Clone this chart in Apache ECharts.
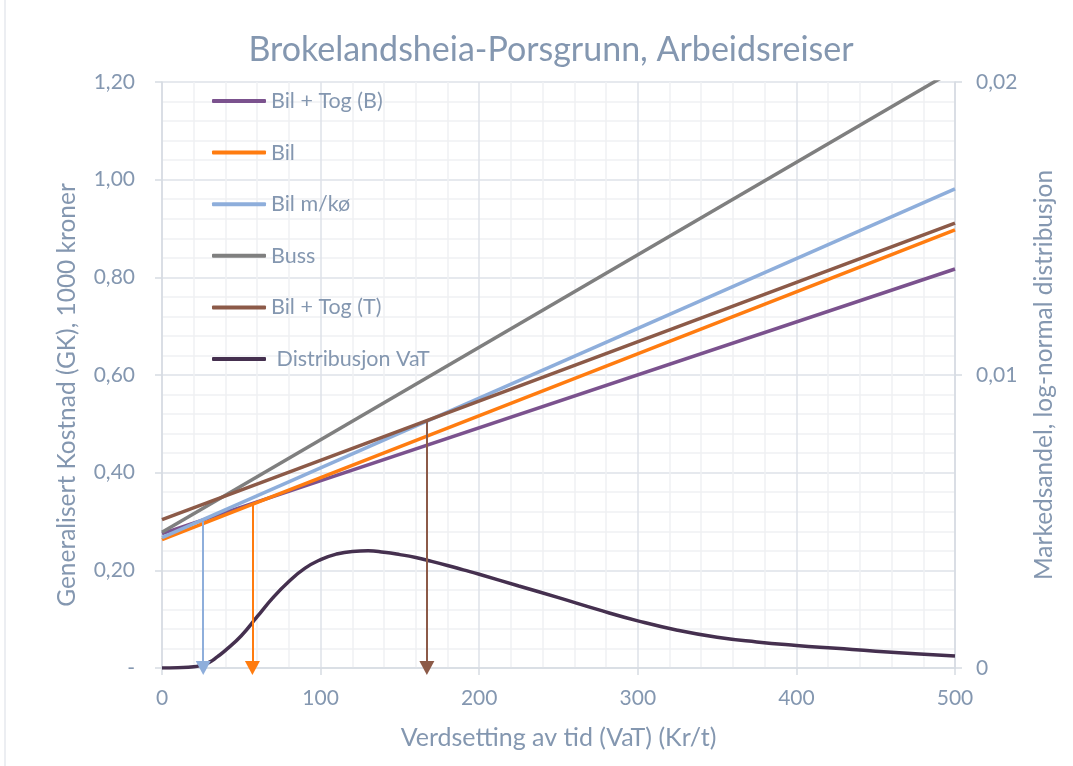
<!DOCTYPE html>
<html>
<head>
<meta charset="utf-8">
<script src="https://cdn.jsdelivr.net/npm/echarts@6/dist/echarts.min.js"></script>
<style>
html,body{margin:0;padding:0;background:#fff;}
#c{width:1073px;height:766px;}
</style>
</head>
<body>
<div id="c"></div>
<script>
// ---- data ----
const titleText = 'Brokelandsheia-Porsgrunn, Arbeidsreiser';
const xName = 'Verdsetting av tid (VaT) (Kr/t)';
const yLeftName = 'Generalisert Kostnad (GK), 1000 kroner';
const yRightName = 'Markedsandel, log-normal distribusjon';
const seriesNames = ['Bil + Tog (B)', 'Bil', 'Bil m/kø', 'Buss', 'Bil + Tog (T)', 'Distribusjon VaT'];

const vatEnds = [0, 500];
const bilTogB = [0.275, 0.817];
const bil = [0.263, 0.897];
const bilKo = [0.267, 0.981];
const buss = [0.278, 1.225];
const bilTogT = [0.304, 0.911];

const distX = [0, 10, 20, 25, 30, 35, 40, 50, 60, 70, 80, 90, 100, 110, 120, 130, 140, 150, 160, 170, 180, 190, 200, 225, 250, 275, 300, 325, 350, 375, 400, 425, 450, 475, 500];
const distY = [0, 0.00001, 0.00004, 0.0001, 0.0002, 0.00039, 0.0006, 0.0011, 0.00175, 0.0024, 0.00295, 0.0034, 0.0037, 0.00389, 0.00398, 0.0040, 0.00395, 0.00387, 0.00377, 0.00364, 0.0035, 0.00335, 0.0032, 0.0028, 0.0024, 0.00199, 0.00161, 0.00129, 0.00105, 0.00089, 0.00077, 0.00067, 0.00057, 0.00049, 0.00041];

// arrows: [Bil m/kø, Bil, Bil + Tog (T)]
const arrowX = [26, 57, 167];
const arrowTop = [0.30, 0.335, 0.505];

const colors = ['#7B528E', '#FF7C10', '#8EAEDB', '#7F7F7F', '#8C5A48', '#45304F'];
const textColor = '#8497B0';
const font = 'Lato, "Open Sans", sans-serif';

function zip(xs, ys) { return xs.map((x, i) => [x, ys[i]]); }
function arrow(i, color) {
  return {
    silent: true,
    symbol: ['none', 'triangle'],
    symbolSize: [15, 14],
    label: { show: false },
    lineStyle: { color: color, width: 2, type: 'solid' },
    animation: false,
    data: [[{ coord: [arrowX[i], arrowTop[i]] }, { coord: [arrowX[i], 0] }]]
  };
}

const lineSeries = [bilTogB, bil, bilKo, buss, bilTogT].map((d, i) => ({
  name: seriesNames[i],
  type: 'line',
  data: zip(vatEnds, d),
  showSymbol: false,
  symbol: 'none',
  clip: true,
  lineStyle: { width: 3.5, color: colors[i] },
  itemStyle: { color: colors[i] },
  yAxisIndex: 0,
  z: 3
}));
lineSeries[2].markLine = arrow(0, colors[2]);
lineSeries[1].markLine = arrow(1, colors[1]);
lineSeries[4].markLine = arrow(2, colors[4]);

const distSeries = {
  name: seriesNames[5],
  type: 'line',
  data: zip(distX, distY),
  yAxisIndex: 1,
  smooth: 0.5,
  showSymbol: false,
  symbol: 'none',
  lineStyle: { width: 3.5, color: colors[5] },
  itemStyle: { color: colors[5] },
  z: 2
};

const chart = echarts.init(document.getElementById('c'), null, { renderer: 'canvas' });
const gridLine = '#DEE2E8';
const minorLine = '#EFF1F4';
const axisCol = '#D6DBE2';
chart.setOption({
  animation: false,
  textStyle: { fontFamily: font },
  grid: { left: 162, right: 118, top: 82, bottom: 98 },
  graphic: [
    { type: 'text', x: 551, y: 50, style: { text: titleText, font: '34px ' + font, fill: textColor, textAlign: 'center', textVerticalAlign: 'middle' } },
    { type: 'line', shape: { x1: 5, y1: 0, x2: 5, y2: 766 }, style: { stroke: '#E6E9EE', lineWidth: 1.5 } }
  ],
  legend: {
    data: seriesNames,
    orient: 'vertical',
    left: 212,
    top: 90,
    padding: 0,
    itemWidth: 54,
    itemHeight: 4,
    itemGap: 29.6,
    icon: 'roundRect',
    formatter: n => n === 'Distribusjon VaT' ? ' ' + n : n,
    textStyle: { color: textColor, fontSize: 21.5, lineHeight: 22, fontFamily: font }
  },
  xAxis: {
    type: 'value', min: 0, max: 500, interval: 100,
    name: xName, nameLocation: 'middle', nameGap: 57,
    nameTextStyle: { color: textColor, fontSize: 25, fontFamily: font },
    axisLine: { show: true, lineStyle: { color: axisCol, width: 1.5 } },
    axisTick: { show: true, length: 7, lineStyle: { color: axisCol, width: 1.5 } },
    axisLabel: { color: textColor, fontSize: 21, margin: 20, fontFamily: font },
    splitLine: { show: true, lineStyle: { color: gridLine, width: 1.5 } },
    minorTick: { show: false, splitNumber: 5 },
    minorSplitLine: { show: true, lineStyle: { color: minorLine, width: 1.5 } }
  },
  yAxis: [
    {
      type: 'value', min: 0, max: 1.2, interval: 0.2, position: 'left',
      name: yLeftName, nameLocation: 'middle', nameGap: 82, nameRotate: 90,
      nameTextStyle: { color: textColor, fontSize: 24.5, fontFamily: font, padding: [0, 40, 0, 0] },
      axisLine: { show: true, lineStyle: { color: axisCol, width: 1.5 } },
      axisTick: { show: true, length: 7, lineStyle: { color: axisCol, width: 1.5 } },
      axisLabel: { color: textColor, fontSize: 21, margin: 27, fontFamily: font,
        formatter: v => v === 0 ? '-' : v.toFixed(2).replace('.', ',') },
      splitLine: { show: true, lineStyle: { color: gridLine, width: 1.5 } },
      minorTick: { show: false, splitNumber: 5 },
      minorSplitLine: { show: true, lineStyle: { color: minorLine, width: 1.5 } }
    },
    {
      type: 'value', min: 0, max: 0.02, interval: 0.01, position: 'right',
      name: yRightName, nameLocation: 'middle', nameGap: 77, nameRotate: 90,
      nameTextStyle: { color: textColor, fontSize: 24.5, fontFamily: font },
      axisLine: { show: true, lineStyle: { color: axisCol, width: 1.5 } },
      axisTick: { show: true, length: 7, lineStyle: { color: axisCol, width: 1.5 } },
      axisLabel: { color: textColor, fontSize: 21, margin: 21, fontFamily: font,
        formatter: v => v === 0 ? '0' : v.toFixed(2).replace('.', ',') },
      splitLine: { show: false }
    }
  ],
  series: lineSeries.concat([distSeries])
});
</script>
</body>
</html>
